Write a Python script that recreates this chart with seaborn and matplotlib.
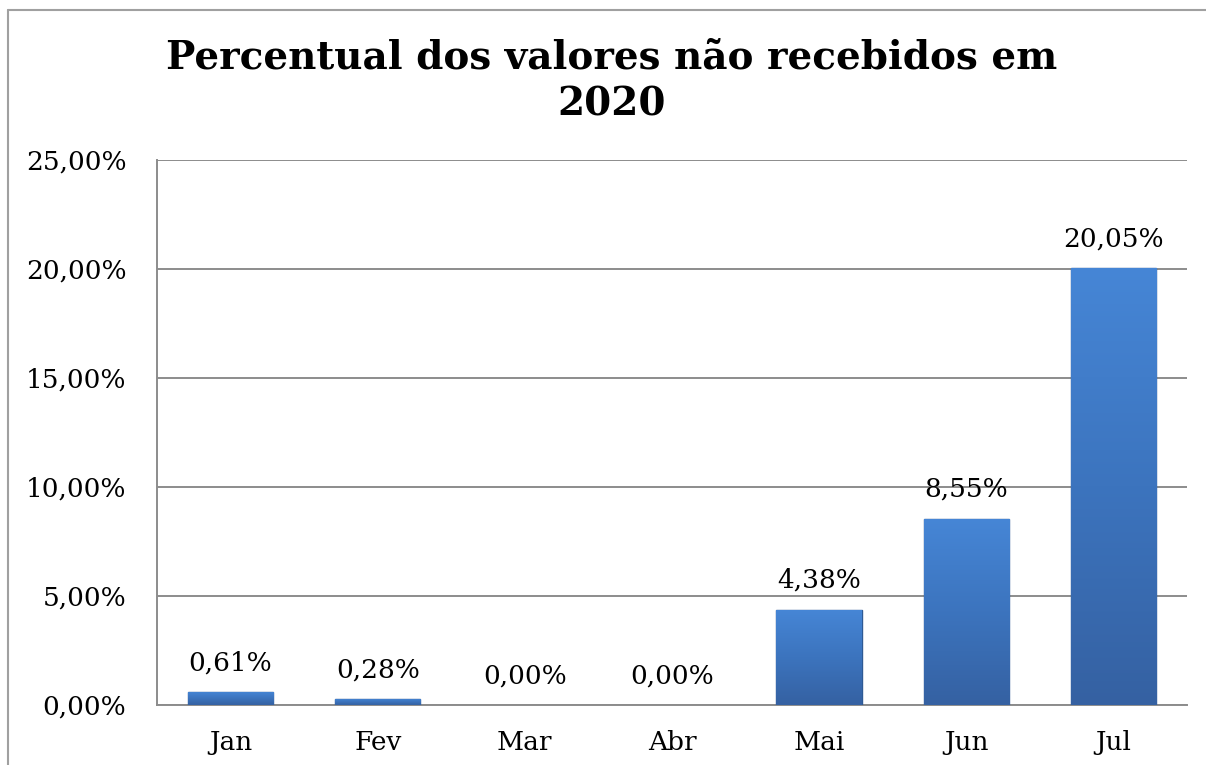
import numpy as np
import pandas as pd
import matplotlib
matplotlib.use("Agg")
import matplotlib.pyplot as plt
from matplotlib.lines import Line2D
from matplotlib.colors import LinearSegmentedColormap
import seaborn as sns

# ---- data ----
months = ["Jan", "Fev", "Mar", "Abr", "Mai", "Jun", "Jul"]
values = [0.61, 0.28, 0.00, 0.00, 4.38, 8.55, 20.05]
y_ticks = [0, 5, 10, 15, 20, 25]
title = "Percentual dos valores não recebidos em\n2020"

sns.set_theme(style="white")
plt.rcParams["font.family"] = ["DejaVu Serif"]
plt.rcParams["text.color"] = "black"

fig = plt.figure(figsize=(12.06, 7.65), dpi=100)
ax = fig.add_axes([157 / 1206, 1 - 705 / 765, (1187 - 157) / 1206, (705 - 160) / 765])

df = pd.DataFrame({"mes": months, "valor": values})
sns.barplot(data=df, x="mes", y="valor", color="#3F7CC8", width=0.58,
            edgecolor="#2E5A94", linewidth=1.0, ax=ax, zorder=3)

# gradient fill clipped to each bar
cmap = LinearSegmentedColormap.from_list("g", ["#3561A2", "#3C74BE", "#4686D6"])
grad = np.linspace(0, 1, 256).reshape(-1, 1)
for p in ax.patches:
    x0, y0 = p.get_x(), p.get_y()
    w, h = p.get_width(), p.get_height()
    if h <= 0:
        p.set_visible(False)
        continue
    im = ax.imshow(grad, cmap=cmap, aspect="auto", origin="lower",
                   extent=[x0, x0 + w, y0, y0 + h], zorder=3.5, interpolation="bicubic")
    im.set_clip_path(p)

ax.set_xlim(-0.5, len(months) - 0.5)
ax.set_ylim(0, 25)
ax.set_yticks(y_ticks)
ax.set_yticklabels([f"{t:.2f}%".replace(".", ",") for t in y_ticks])
ax.set_xlabel("")
ax.set_ylabel("")
ax.tick_params(axis="y", length=0, pad=22, labelsize=19, colors="black")
ax.tick_params(axis="x", length=0, pad=18, labelsize=19, colors="black")
ax.yaxis.grid(True, color="#8C8C8C", linewidth=1.4, zorder=0)
ax.set_axisbelow(True)
for s in ["top", "right"]:
    ax.spines[s].set_visible(False)
for s in ["left", "bottom"]:
    ax.spines[s].set_color("#8C8C8C")
    ax.spines[s].set_linewidth(1.4)

labels = [f"{v:.2f}%".replace(".", ",") for v in values]
ax.bar_label(ax.containers[0], labels=labels, padding=12, fontsize=19, color="black")

fig.text(612 / 1206, 1 - 81 / 765, title, ha="center", va="center", color="black",
         fontsize=28, fontweight="bold", linespacing=1.3)

# outer frame (top and left)
fig.add_artist(Line2D([8 / 1206, 8 / 1206], [0, 1 - 10 / 765], transform=fig.transFigure,
                      color="#A0A0A0", linewidth=1.5))
fig.add_artist(Line2D([8 / 1206, 1], [1 - 10 / 765, 1 - 10 / 765], transform=fig.transFigure,
                      color="#A0A0A0", linewidth=1.5))

fig.savefig("out.png", dpi=100)
